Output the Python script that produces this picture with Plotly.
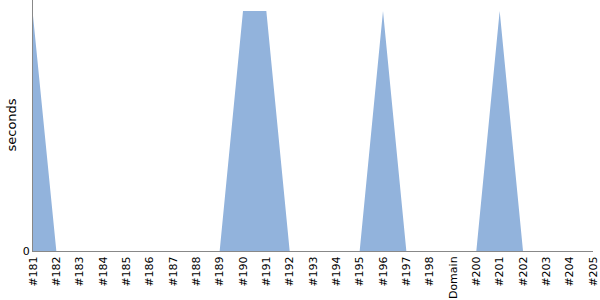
import plotly.graph_objects as go

categories = ["#181", "#182", "#183", "#184", "#185", "#186", "#187", "#188", "#189",
              "#190", "#191", "#192", "#193", "#194", "#195", "#196", "#197", "#198",
              "Domain", "#200", "#201", "#202", "#203", "#204", "#205"]
seconds = [0.98, 0, 0, 0, 0, 0, 0, 0, 0,
           1, 1, 0, 0, 0, 0, 1, 0, 0,
           0, 0, 1, 0, 0, 0, 0]
y_title = "seconds"

fig = go.Figure()
fig.add_trace(go.Scatter(
    x=categories, y=seconds, mode="lines", fill="tozeroy",
    line=dict(width=0, color="rgb(146,179,220)"),
    fillcolor="rgb(146,179,220)", hoverinfo="x+y",
))
fig.update_layout(
    width=600, height=300,
    margin=dict(l=33, r=5, t=0, b=49),
    paper_bgcolor="white", plot_bgcolor="white",
    showlegend=False,
    font=dict(family="DejaVu Sans", color="#000"),
)
fig.update_xaxes(
    type="category", range=[0, 24], showgrid=False, zeroline=False,
    showline=True, linecolor="#888", linewidth=1,
    tickangle=-90, tickfont=dict(size=11), ticks="",
)
fig.update_yaxes(
    range=[0, 1.046], tickvals=[0], showgrid=False, zeroline=False,
    showline=True, linecolor="#888", linewidth=1,
    tickfont=dict(size=11), ticks="",
)
fig.add_annotation(
    text=y_title, xref="paper", yref="paper", x=0, y=0.5,
    xanchor="center", yanchor="middle", xshift=-22, textangle=-90,
    showarrow=False, font=dict(size=13),
)
fig.write_html("out.html")
